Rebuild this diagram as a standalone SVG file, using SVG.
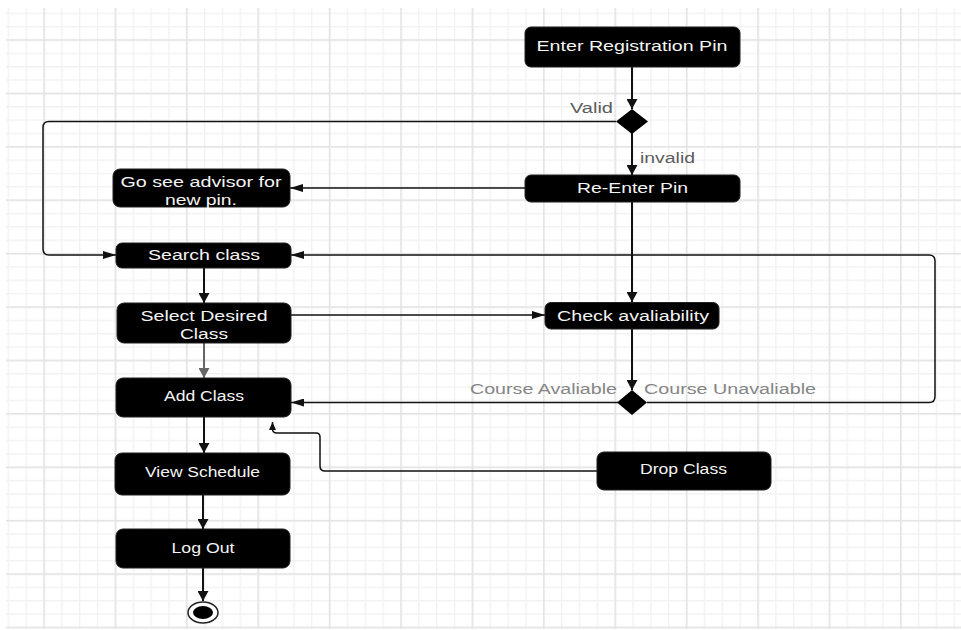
<svg xmlns="http://www.w3.org/2000/svg" width="961" height="630" viewBox="0 0 961 630">
<style>
.box{fill:#000;stroke:#222;stroke-width:1}
.t{font-family:"Liberation Sans",Arial,sans-serif;font-size:14px;fill:#f4f4f4;text-anchor:middle}
.lbl{font-family:"Liberation Sans",Arial,sans-serif;font-size:14px;fill:#5c5c5c}
.lbl2{font-family:"Liberation Sans",Arial,sans-serif;font-size:14px;fill:#858585}
.c{fill:none;stroke:#111;stroke-width:1.5}
.v{fill:none;stroke:#111;stroke-width:2}
</style>
<defs>
<pattern id="gMinor" patternUnits="userSpaceOnUse" x="43.3" y="39.3" width="17.85" height="13.35">
<rect x="0" y="0" width="1.4" height="13.35" fill="#f2f2f2"/>
<rect x="0" y="0" width="17.85" height="1.4" fill="#f2f2f2"/>
</pattern>
<pattern id="gMajor" patternUnits="userSpaceOnUse" x="43.3" y="39.3" width="71.4" height="53.4">
<rect x="0" y="0" width="1.5" height="53.4" fill="#e3e3e3"/>
<rect x="0" y="0" width="71.4" height="1.5" fill="#e3e3e3"/>
</pattern>
<marker id="aV" viewBox="0 0 10 11" refX="10" refY="5.5" markerWidth="10" markerHeight="11" markerUnits="userSpaceOnUse" orient="auto">
<path d="M0,0 L10,5.5 L0,11 z" fill="#111"/>
</marker>
<marker id="aVg" viewBox="0 0 10 11" refX="10" refY="5.5" markerWidth="10" markerHeight="11" markerUnits="userSpaceOnUse" orient="auto">
<path d="M0,0 L10,5.5 L0,11 z" fill="#666"/>
</marker>
<marker id="aH" viewBox="0 0 13 8" refX="13" refY="4" markerWidth="13" markerHeight="8" markerUnits="userSpaceOnUse" orient="auto">
<path d="M0,0 L13,4 L0,8 z" fill="#111"/>
</marker>
<marker id="aS" viewBox="0 0 8 7" refX="8" refY="3.5" markerWidth="8" markerHeight="7" markerUnits="userSpaceOnUse" orient="auto">
<path d="M0,0 L8,3.5 L0,7 z" fill="#111"/>
</marker>
</defs>
<rect x="0" y="0" width="961" height="630" fill="#fff"/>
<g id="grid">
<rect x="6" y="8" width="955" height="621" fill="url(#gMinor)"/>
<rect x="6" y="8" width="955" height="621" fill="url(#gMajor)"/>
</g>
<g id="connectors">
<path class="v" d="M632,67 V109" marker-end="url(#aV)"/>
<path class="v" d="M632,133 V175" marker-end="url(#aV)"/>
<path class="c" d="M616,121.5 H49 Q43,121.5 43,127.5 V249 Q43,255 49,255 H116" marker-end="url(#aH)"/>
<path class="c" d="M525,188 H290" marker-end="url(#aH)"/>
<path class="v" d="M632,202 V302" marker-end="url(#aV)"/>
<path class="v" d="M204,268 V303" marker-end="url(#aV)"/>
<path class="c" d="M291,315 H545" marker-end="url(#aH)"/>
<path class="v" d="M204,343 V378" style="stroke:#666" marker-end="url(#aVg)"/>
<path class="v" d="M632,329 V390" marker-end="url(#aV)"/>
<path class="c" d="M618,402.5 H291" marker-end="url(#aH)"/>
<path class="c" d="M647,402.5 H929 Q935,402.5 935,396.5 V261 Q935,255 929,255 H291" marker-end="url(#aH)"/>
<path class="c" d="M597,471 H325 Q320,471 320,466 V437 Q320,433 316,433 H277 Q272.5,433 272.5,429 V422" marker-end="url(#aS)"/>
<path class="v" d="M204,417 V453" marker-end="url(#aV)"/>
<path class="v" d="M203,495 V529" marker-end="url(#aV)"/>
<path class="v" d="M203,568 V601" marker-end="url(#aV)"/>
</g>
<g id="enter-pin">
<rect class="box" x="525" y="27" width="215" height="40" rx="6"/>
<text class="t" x="632" y="51" textLength="191" lengthAdjust="spacingAndGlyphs">Enter Registration Pin</text>
</g>
<g id="decision-pin">
<polygon points="632,109 648,121.5 632,134 616,121.5" fill="#000"/>
<text class="lbl" x="570" y="112.5" textLength="43" lengthAdjust="spacingAndGlyphs">Valid</text>
<text class="lbl" x="640" y="162.5" textLength="55" lengthAdjust="spacingAndGlyphs">invalid</text>
</g>
<g id="reenter-pin">
<rect class="box" x="525" y="175" width="215" height="27" rx="6"/>
<text class="t" x="632.5" y="193" textLength="111" lengthAdjust="spacingAndGlyphs">Re-Enter Pin</text>
</g>
<g id="advisor">
<rect class="box" x="113" y="169" width="177" height="38" rx="7"/>
<text class="t" x="201" y="187" textLength="161" lengthAdjust="spacingAndGlyphs">Go see advisor for</text>
<text class="t" x="201" y="205" textLength="72" lengthAdjust="spacingAndGlyphs">new pin.</text>
</g>
<g id="search-class">
<rect class="box" x="116" y="243" width="175" height="25" rx="6"/>
<text class="t" x="204" y="260" textLength="112" lengthAdjust="spacingAndGlyphs">Search class</text>
</g>
<g id="select-class">
<rect class="box" x="117" y="303" width="174" height="40" rx="7"/>
<text class="t" x="204" y="321" textLength="127" lengthAdjust="spacingAndGlyphs">Select Desired</text>
<text class="t" x="204" y="339" textLength="48" lengthAdjust="spacingAndGlyphs">Class</text>
</g>
<g id="check-availability">
<rect class="box" x="545" y="302.5" width="174" height="26.5" rx="6"/>
<text class="t" x="633" y="320.5" textLength="152" lengthAdjust="spacingAndGlyphs">Check avaliability</text>
</g>
<g id="decision-course">
<polygon points="632,390 647,402.5 632,415 617,402.5" fill="#000"/>
<text class="lbl2" x="470" y="394" textLength="147" lengthAdjust="spacingAndGlyphs">Course Avaliable</text>
<text class="lbl2" x="644" y="394" textLength="172" lengthAdjust="spacingAndGlyphs">Course Unavaliable</text>
</g>
<g id="add-class">
<rect class="box" x="116" y="378" width="175" height="39" rx="7"/>
<text class="t" x="204" y="401.3" textLength="80" lengthAdjust="spacingAndGlyphs">Add Class</text>
</g>
<g id="drop-class">
<rect class="box" x="597" y="452" width="174" height="38" rx="7"/>
<text class="t" x="683.5" y="474" textLength="87" lengthAdjust="spacingAndGlyphs">Drop Class</text>
</g>
<g id="view-schedule">
<rect class="box" x="115" y="453" width="175" height="42" rx="7"/>
<text class="t" x="202.5" y="477.3" textLength="115" lengthAdjust="spacingAndGlyphs">View Schedule</text>
</g>
<g id="log-out">
<rect class="box" x="116" y="529" width="174" height="39" rx="7"/>
<text class="t" x="203" y="552.7" textLength="63" lengthAdjust="spacingAndGlyphs">Log Out</text>
</g>
<g id="end">
<ellipse cx="203" cy="612.5" rx="15" ry="10.5" fill="#fff" stroke="#222" stroke-width="1.5"/>
<ellipse cx="203" cy="612.5" rx="10" ry="6.5" fill="#000"/>
</g>
</svg>
